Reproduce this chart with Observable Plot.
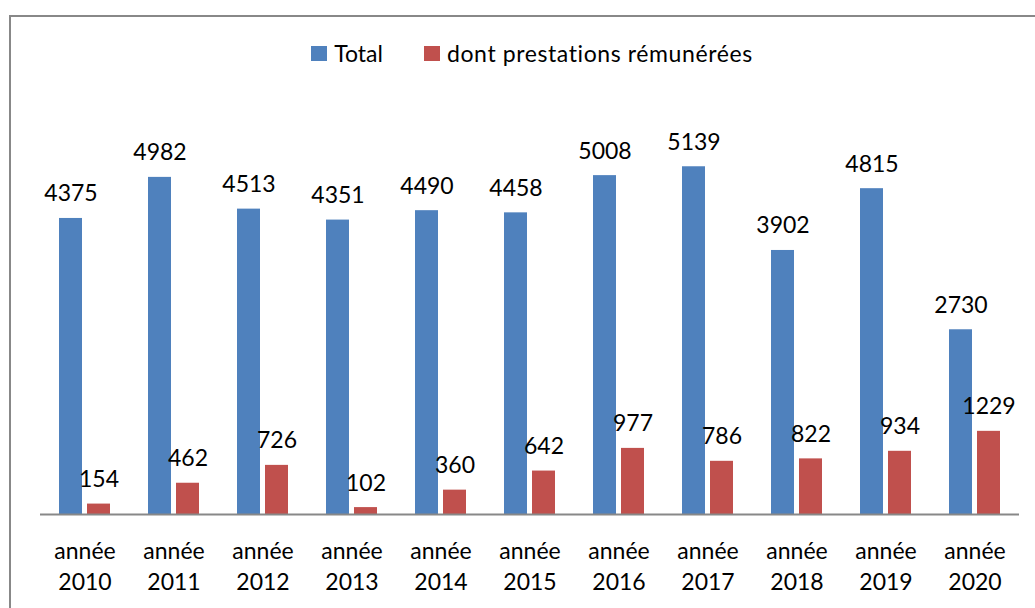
<!DOCTYPE html>
<html><head><meta charset="utf-8">
<script src="https://cdn.jsdelivr.net/npm/d3@7"></script>
<script src="https://cdn.jsdelivr.net/npm/@observablehq/plot@0.6"></script>
<style>
body{margin:0;background:#fff;font-family:Lato,sans-serif;}
#wrap{position:relative;width:1035px;height:608px;overflow:hidden;background:#fff;}
#frame{position:absolute;left:9px;top:15px;width:1100px;height:700px;border:2px solid #888;box-sizing:border-box;}
#legend{position:absolute;top:40px;left:0;width:1064px;display:flex;justify-content:center;gap:41px;font-size:23px;color:#000;line-height:26px;}
#legend .item{display:flex;align-items:center;}
#legend .sw{width:16px;height:15px;margin-right:7px;}
#legend .t2{letter-spacing:0.6px;}
#chart{position:absolute;left:0;top:0;}
</style>
</head><body>
<div id="wrap"><div id="frame"></div><div id="chart"></div><div id="legend"></div></div>
<script>
const years = [2010, 2011, 2012, 2013, 2014, 2015, 2016, 2017, 2018, 2019, 2020];
const total = [4375, 4982, 4513, 4351, 4490, 4458, 5008, 5139, 3902, 4815, 2730];
const paid = [154, 462, 726, 102, 360, 642, 977, 786, 822, 934, 1229];
const series = ["Total", "dont prestations rémunérées"];
const colors = ["#4F81BD", "#C0504D"];

const data = years.flatMap((y, i) => [
  {year: y, serie: series[0], value: total[i]},
  {year: y, serie: series[1], value: paid[i]}
]);

const chart = Plot.plot({
  width: 1035, height: 608,
  marginTop: 108, marginBottom: 94, marginLeft: 38, marginRight: 15,
  style: {fontFamily: "Lato, sans-serif", fontSize: "23px", background: "transparent", color: "#000"},
  fx: {domain: years, padding: 0, label: null, axis: null},
  x: {domain: series, paddingInner: 0.172, paddingOuter: 0.625, axis: null},
  y: {domain: [0, 6000], axis: null},
  color: {domain: series, range: colors},
  marks: [
    Plot.barY(data, {fx: "year", x: "serie", y: "value", fill: "serie"}),
    Plot.ruleY([0], {stroke: "#888", strokeWidth: 2}),
    Plot.text(data, {fx: "year", x: "serie", y: "value", text: d => String(d.value), lineAnchor: "bottom", dy: -17, fontSize: 23, fill: "#000"}),
    Plot.axisFx({anchor: "bottom", tickSize: 0, tickPadding: 22, tickFormat: d => "année\n" + d, fontSize: 23, lineHeight: 1.35, label: null, fill: "#000"})
  ]
});
document.getElementById("chart").appendChild(chart);

const legend = document.getElementById("legend");
series.forEach((s, i) => {
  const it = document.createElement("div");
  it.className = "item";
  const sw = document.createElement("span");
  sw.className = "sw";
  sw.style.background = colors[i];
  const t = document.createElement("span");
  t.textContent = s;
  if (i === 1) t.className = "t2";
  it.appendChild(sw); it.appendChild(t);
  legend.appendChild(it);
});
</script>
</body></html>
